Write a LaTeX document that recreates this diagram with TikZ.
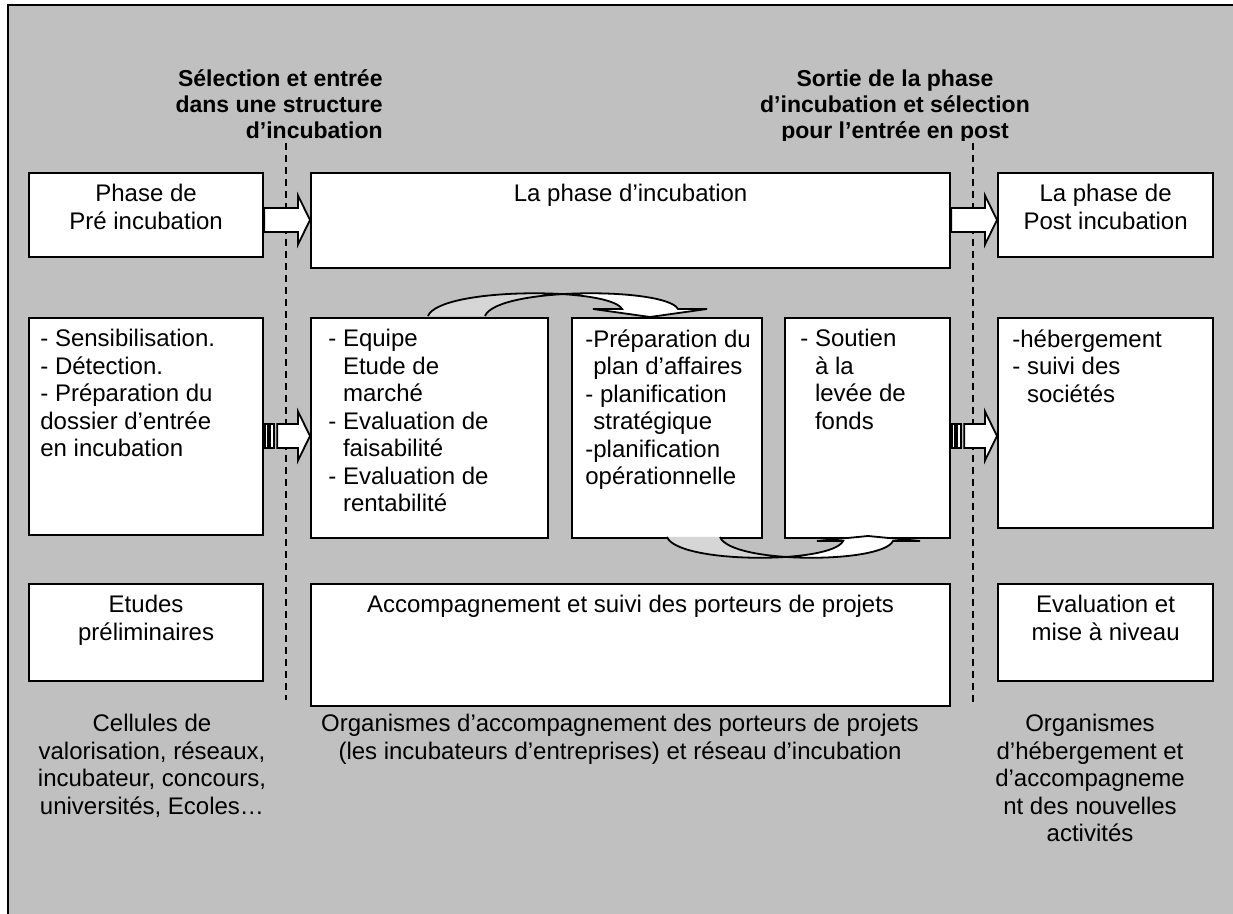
\documentclass[tikz,border=0pt]{standalone}
\usepackage{fontspec}
\setmainfont{Liberation Sans}
\usetikzlibrary{positioning,calc}

\definecolor{fondgris}{HTML}{C0C0C0}
\definecolor{grisclair}{HTML}{D6D6D6}

\tikzset{
  cadre/.style={draw, line width=1.1pt, fill=white, inner sep=0pt, anchor=north west},
  texte/.style={inner sep=0pt, font=\fontsize{12}{13.75}\selectfont},
  titre/.style={inner sep=0pt, font=\fontsize{11.5}{13}\selectfont\bfseries},
  fleche/.style={draw, line width=0.9pt, fill=white, line join=miter},
  separation/.style={line width=1pt, dash pattern=on 3.5pt off 2.5pt},
}

% fleche pleine : depart, arrivee, hauteur
\newcommand{\flechebloc}[3]{%
  \draw[fleche] (#1 |- 0,#3-12) -- ($(#2 |- 0,#3-12)+(-12,0)$)
    -- ($(#2 |- 0,#3-24.5)+(-12,0)$) -- (#2 |- 0,#3)
    -- ($(#2 |- 0,#3+24.5)+(-12,0)$) -- ($(#2 |- 0,#3+12)+(-12,0)$)
    -- (#1 |- 0,#3+12) -- cycle;}

% fleche rayee : depart, arrivee, hauteur
\newcommand{\flecherayee}[3]{%
  \draw[fleche] ($(#1 |- 0,#3-12)+(1,0)$) rectangle ($(#1 |- 0,#3+12)+(4,0)$);
  \draw[fleche] ($(#1 |- 0,#3-12)+(6,0)$) rectangle ($(#1 |- 0,#3+12)+(10,0)$);
  \draw[fleche] ($(#1 |- 0,#3-12)+(13,0)$) -- ($(#2 |- 0,#3-12)+(-12,0)$)
    -- ($(#2 |- 0,#3-24.5)+(-12,0)$) -- (#2 |- 0,#3)
    -- ($(#2 |- 0,#3+24.5)+(-12,0)$) -- ($(#2 |- 0,#3+12)+(-12,0)$)
    -- ($(#1 |- 0,#3+12)+(13,0)$) -- cycle;}

\begin{document}
\begin{tikzpicture}[x=0.5pt,y=-0.5pt]
    \useasboundingbox (0,0) rectangle (1233,914);

    % Fond
    \fill[fondgris] (8,5) rectangle (1245,925);
    \draw[line width=1.2pt] (8,925) -- (8,5) -- (1245,5);

    % Titres
    \node[titre, anchor=north east, align=right] (selection) at (383,69)
        {Sélection et entrée\\dans une structure\\d’incubation};
    \begin{scope}
        \clip (600,40) rectangle (1200,141);
        \node[titre, anchor=north, align=center] (sortie) at (895,69)
            {Sortie de la phase\\d’incubation et sélection\\pour l’entrée en post};
    \end{scope}

    % Separations
    \coordinate (selHaut) at (286,143);
    \coordinate (selBas) at (286,700);
    \coordinate (sortHaut) at (973,143);
    \coordinate (sortBas) at (973,705);
    \draw[separation] (selHaut) -- (selBas);
    \draw[separation] (sortHaut) -- (sortBas);

    % Ligne 1
    \node[cadre, minimum width=117pt, minimum height=42pt] (phasePre) at (28,172) {};
    \node[cadre, minimum width=319.5pt, minimum height=47.5pt] (phaseInc) at (310,172) {};
    \node[cadre, minimum width=107.5pt, minimum height=42pt] (phasePost) at (997,172) {};
    \node[texte, align=center, below=6pt of phasePre.north] (tPre) {Phase de\\Pré incubation};
    \node[texte, below=6pt of phaseInc.north] (tInc) {La phase d’incubation};
    \node[texte, align=center, below=6pt of phasePost.north] (tPost) {La phase de\\Post incubation};

    % Ligne 2
    \node[cadre, minimum width=117pt, minimum height=108.5pt] (preActiv) at (28,317) {};
    \node[cadre, minimum width=118.5pt, minimum height=110pt] (equipe) at (310,317) {};
    \node[cadre, minimum width=95pt, minimum height=110pt] (planAff) at (571,317) {};
    \node[cadre, minimum width=82.5pt, minimum height=110pt] (soutien) at (784,317) {};
    \node[cadre, minimum width=107.5pt, minimum height=105pt] (postActiv) at (997,317) {};
    \node[texte, align=left, below right=6pt and 6pt of preActiv.north west] (tPreActiv)
        {- Sensibilisation.\\- Détection.\\- Préparation du\\dossier d’entrée\\en incubation};
    \node[texte, align=left, below right=6pt and 9pt of equipe.north west] (tEquipe)
        {- Equipe\\\phantom{-~}Etude de\\\phantom{-~}marché\\- Evaluation de\\\phantom{-~}faisabilité\\- Evaluation de\\\phantom{-~}rentabilité};
    \node[texte, align=left, below right=6pt and 7pt of planAff.north west] (tPlanAff)
        {-Préparation du\\\phantom{-}plan d’affaires\\- planification\\\phantom{-}stratégique\\-planification\\opérationnelle};
    \node[texte, align=left, below right=6pt and 8pt of soutien.north west] (tSoutien)
        {- Soutien\\\phantom{-~}à la\\\phantom{-~}levée de\\\phantom{-~}fonds};
    \node[texte, align=left, below right=6pt and 7.5pt of postActiv.north west] (tPostActiv)
        {-hébergement\\- suivi des\\\phantom{-~}sociétés};

    % Ligne 3
    \node[cadre, minimum width=117pt, minimum height=48.5pt] (etudes) at (28,583) {};
    \node[cadre, minimum width=319.5pt, minimum height=61pt] (accomp) at (310,583) {};
    \node[cadre, minimum width=107.5pt, minimum height=48.5pt] (evalPost) at (997,583) {};
    \node[texte, align=center, below=6pt of etudes.north] (tEtudes) {Etudes\\préliminaires};
    \node[texte, below=6pt of accomp.north] (tAccomp) {Accompagnement et suivi des porteurs de projets};
    \node[texte, align=center, below=6pt of evalPost.north] (tEvalPost) {Evaluation et\\mise à niveau};

    % Fleches pleines
    \flechebloc{phasePre.east}{phaseInc.west}{220}
    \flechebloc{phaseInc.east}{phasePost.west}{220}
    \flecherayee{preActiv.east}{equipe.west}{436}
    \flecherayee{soutien.east}{postActiv.west}{436}

    % Fleche courbe du haut
    \fill[white] (428,316) .. controls (440,287) and (610,287) .. (622,309)
        -- (593,309) -- (650,317) -- (707,309) -- (678,309)
        .. controls (666,287) and (497,287) .. (485,316) -- cycle;
    \begin{scope}
        \clip (400,250) rectangle (553.5,320);
        \fill[grisclair] (428,316) .. controls (440,287) and (610,287) .. (622,309)
            -- (678,309) .. controls (666,287) and (497,287) .. (485,316) -- cycle;
    \end{scope}
    \draw[line width=0.9pt, line join=miter] (428,316) .. controls (440,287) and (610,287) .. (622,309)
        -- (593,309) -- (650,317) -- (707,309) -- (678,309)
        .. controls (666,287) and (497,287) .. (485,316);

    % Fleche courbe du bas
    \fill[white] (667,537) .. controls (678,564) and (832,564) .. (843,541)
        -- (817,541) -- (868,536) -- (920,541) -- (893,541)
        .. controls (882,564) and (731,564) .. (720,537) -- cycle;
    \begin{scope}
        \clip (640,530) rectangle (781,580);
        \fill[grisclair] (667,537) .. controls (678,564) and (832,564) .. (843,541)
            -- (893,541) .. controls (882,564) and (731,564) .. (720,537) -- cycle;
    \end{scope}
    \draw[line width=0.9pt, line join=miter] (667,537) .. controls (678,564) and (832,564) .. (843,541)
        -- (817,541) -- (868,536) -- (920,541) -- (893,541)
        .. controls (882,564) and (731,564) .. (720,537);

    % Textes du bas
    \node[texte, align=center, anchor=north] (acteursPre) at (152,714)
        {Cellules de\\valorisation, réseaux,\\incubateur, concours,\\universités, Ecoles…};
    \node[texte, align=center, anchor=north] (acteursInc) at (620,714)
        {Organismes d’accompagnement des porteurs de projets\\(les incubateurs d’entreprises) et réseau d’incubation};
    \node[texte, align=center, anchor=north] (acteursPost) at (1090,714)
        {Organismes\\d’hébergement et\\d’accompagneme\\nt des nouvelles\\activités};
\end{tikzpicture}
\end{document}
